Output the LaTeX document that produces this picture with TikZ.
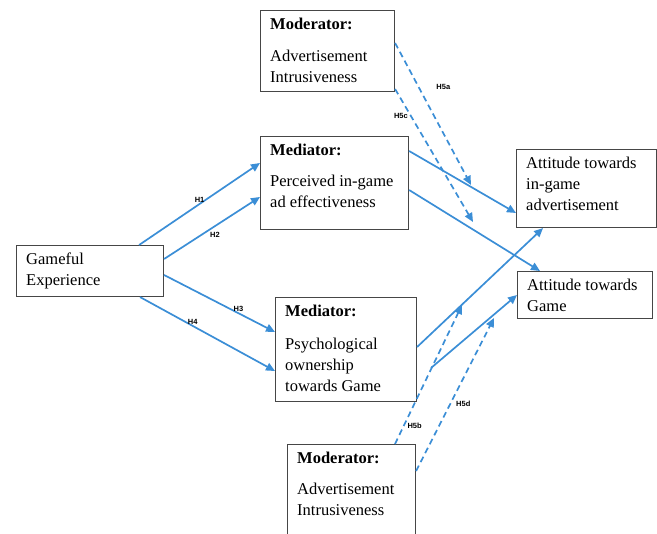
\documentclass[tikz,border=0pt]{standalone}
\usepackage{fontspec}
\setmainfont{Liberation Serif}
\setsansfont{Liberation Sans}
\usetikzlibrary{arrows.meta}
\definecolor{linkblue}{RGB}{59,142,214}
\definecolor{boxgray}{RGB}{70,70,70}

\begin{document}
\begin{tikzpicture}[
  x=1pt, y=-1pt,
  box/.style={draw=boxgray, line width=1.1pt, anchor=north west, inner sep=0pt},
  boxtext/.style={anchor=north west, align=left, inner xsep=10pt, inner ysep=8pt,
    font=\fontsize{16.5}{21}\selectfont},
  link/.style={draw=linkblue, line width=1.7pt, -{Triangle[length=9pt,width=8pt]}},
  modlink/.style={link, dash pattern=on 6pt off 4pt},
  hyp/.style={font=\sffamily\bfseries\fontsize{7.5}{9}\selectfont, inner sep=1pt},
]
  \useasboundingbox (0,0) rectangle (657,534);
  \clip (0,0) rectangle (657,534);

  % boxes
  \node[box, minimum width=134pt, minimum height=81pt,
    label={[boxtext]north west:{\textbf{Moderator:}\\[11pt]Advertisement\\Intrusiveness}}]
    (modtop) at (260,10) {};
  \node[box, minimum width=148pt, minimum height=93pt,
    label={[boxtext]north west:{\textbf{Mediator:}\\[10pt]Perceived in-game\\ad effectiveness}}]
    (medad) at (260,136) {};
  \node[box, minimum width=140pt, minimum height=78pt,
    label={[boxtext]north west:{Attitude towards\\in-game\\advertisement}}]
    (attad) at (516,149) {};
  \node[box, minimum width=147pt, minimum height=51pt,
    label={[boxtext]north west:{Gameful\\Experience}}]
    (game) at (16,245) {};
  \node[box, minimum width=135pt, minimum height=47pt,
    label={[boxtext]north west:{Attitude towards\\Game}}]
    (attgame) at (517,271) {};
  \node[box, minimum width=141pt, minimum height=104pt,
    label={[boxtext]north west:{\textbf{Mediator:}\\[12pt]Psychological\\ownership\\towards Game}}]
    (medown) at (275,297) {};
  \node[box, minimum width=128pt, minimum height=100pt,
    label={[boxtext]north west:{\textbf{Moderator:}\\[10pt]Advertisement\\Intrusiveness}}]
    (modbot) at (287,444) {};

  % direct paths
  \draw[link] ([xshift=-25pt]game.north east) -- node[hyp, above] (h1) {H1} ([yshift=-27pt]medad.north west);
  \draw[link] ([yshift=-14pt]game.north east) -- node[hyp, pos=.53, below=4pt] (h2) {H2} ([yshift=-61pt]medad.north west);
  \draw[link] ([yshift=-30pt]game.north east) -- node[hyp, pos=.67, above] (h3) {H3} ([yshift=-35pt]medown.north west);
  \draw[link] ([xshift=-24pt]game.south east) -- node[hyp, pos=.39, above] (h4) {H4} ([yshift=-74pt]medown.north west);
  \draw[link] ([yshift=-15pt]medad.north east) -- ([yshift=-64pt]attad.north west);
  \draw[link] ([yshift=-54pt]medad.north east) -- ([xshift=23pt]attgame.north west);
  \draw[link] ([yshift=-50pt]medown.north east) -- ([xshift=27pt]attad.south west);
  \coordinate (split) at (431,368);
  \draw[link] (split) -- ([yshift=-24pt]attgame.north west);

  % moderation
  \coordinate (h5atip) at (471,185);
  \coordinate (h5ctip) at (473,222);
  \coordinate (h5btip) at (462,305);
  \coordinate (h5dtip) at (494,318);
  \draw[modlink] ([yshift=-33pt]modtop.north east) -- node[hyp, pos=.31, right=16pt] (h5a) {H5a} (h5atip);
  \draw[modlink] ([yshift=-79pt]modtop.north east) -- node[hyp, pos=.2, left=1pt] (h5c) {H5c} (h5ctip);
  \draw[modlink] ([xshift=108pt]modbot.north west) -- node[hyp, pos=.13, right=2pt] (h5b) {H5b} (h5btip);
  \draw[modlink] ([yshift=-27pt]modbot.north east) -- node[hyp, pos=.44, right=4pt] (h5d) {H5d} (h5dtip);
\end{tikzpicture}
\end{document}
